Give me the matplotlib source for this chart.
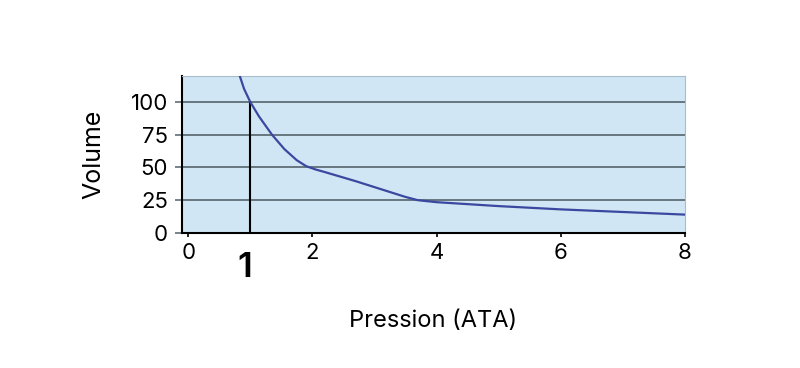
import matplotlib.pyplot as plt

plt.rcParams['font.family'] = ['Inter', 'DejaVu Sans']

# Boyle curve
pression = [0.83, 0.9, 1.0, 1.14, 1.35, 1.55, 1.75, 1.9, 2.05, 2.2, 2.7, 3.2, 3.5, 3.7, 4.0, 5.0, 6.0, 7.0, 8.0]
volume = [120, 110, 100, 89, 75, 64, 55.5, 51, 48.5, 46.5, 39.5, 32, 27.5, 25, 23.5, 20.5, 18, 16, 14]

x_ticks = [0, 2, 4, 6, 8]
y_ticks = [0, 25, 50, 75, 100]
mark_x = 1
mark_y = 100

fig = plt.figure(figsize=(8, 3.68), dpi=100)
ax = fig.add_axes([0.2275, 0.367, 0.6285, 0.427])
ax.set_facecolor('#d0e6f4')

# horizontal grid
for y in y_ticks[1:]:
    ax.axhline(y, color='#5f6e76', lw=1.3, zorder=1)

ax.plot(pression, volume, color='#3b48a0', lw=1.6, zorder=3)
ax.plot([mark_x, mark_x], [0, mark_y], color='black', lw=1.5, zorder=2)

ax.set_xlim(-0.1, 8)
ax.set_ylim(0, 120)
ax.set_xticks(x_ticks)
ax.set_yticks(y_ticks)
ax.tick_params(axis='y', length=5, width=1.2, color='#5f6e76', labelsize=16, pad=5)
ax.tick_params(axis='x', length=3, width=1.2, color='black', labelsize=16, pad=4)

for side in ['top', 'right']:
    ax.spines[side].set_color('#a9bccb')
    ax.spines[side].set_linewidth(0.8)
for side in ['left', 'bottom']:
    ax.spines[side].set_color('black')
    ax.spines[side].set_linewidth(1.5)

# big "1" under the marker line
ax.text(mark_x - 0.09, -0.12, '1', transform=ax.get_xaxis_transform(),
        ha='center', va='top', fontsize=25, fontweight='semibold')

ax.set_ylabel('Volume', fontsize=18, labelpad=18)
ax.set_xlabel('Pression (ATA)', fontsize=17, labelpad=34)

fig.savefig('out.png', dpi=100)
